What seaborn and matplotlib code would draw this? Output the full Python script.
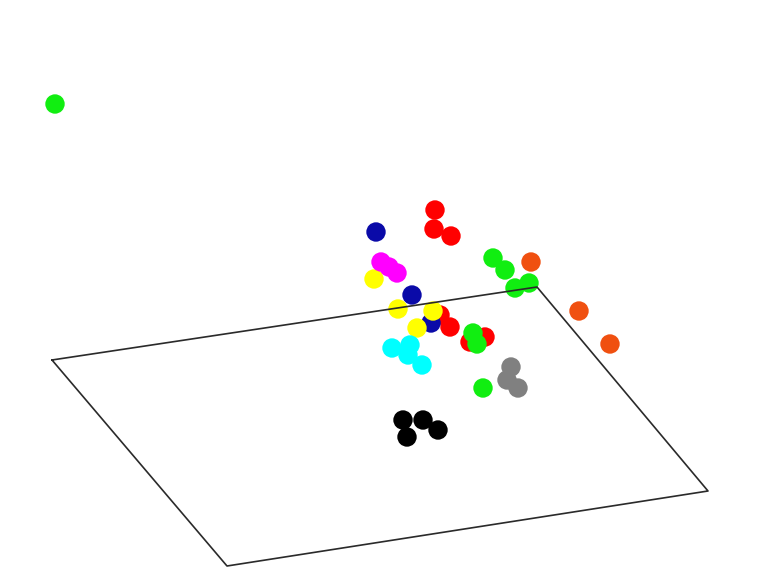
import pandas as pd
import numpy as np
import seaborn as sns
import matplotlib
matplotlib.use("Agg")
import matplotlib.pyplot as plt

# projected positions of the samples (listed in drawing order, back to front)
group = ['red', 'red', 'red', 'red', 'red', 'red', 'red',
         'blue', 'blue', 'blue',
         'yellow', 'yellow', 'yellow', 'yellow',
         'magenta', 'magenta', 'magenta',
         'green', 'green', 'green', 'green', 'green', 'green', 'green', 'green',
         'cyan', 'cyan', 'cyan', 'cyan',
         'gray', 'gray', 'gray',
         'black', 'black', 'black', 'black',
         'orange', 'orange', 'orange']
px = [435, 434, 451, 440, 450, 470, 485,
      376, 412, 431,
      374, 398, 433, 417,
      381, 389, 397,
      55, 493, 505, 515, 529, 473, 477, 483,
      392, 410, 408, 422,
      511, 507, 518,
      403, 407, 423, 438,
      531, 579, 610]
py = [210, 229, 236, 315, 327, 342, 337,
      232, 295, 323,
      279, 309, 311, 328,
      262, 267, 273,
      104, 258, 270, 288, 283, 333, 344, 388,
      348, 345, 355, 365,
      367, 380, 388,
      420, 437, 420, 430,
      262, 311, 344]

# floor plane corners
plane_x = [52, 537, 708, 227, 52]
plane_y = [360, 287, 491, 566, 360]

colors = {'red': '#ff0000', 'blue': '#0a0aa8', 'yellow': '#ffff00',
          'magenta': '#ff00ff', 'green': '#11ee11', 'cyan': '#00ffff',
          'gray': '#808080', 'black': '#000000', 'orange': '#f05010'}

df = pd.DataFrame({'x': px, 'y': py, 'group': group})

sns.set_style("white")
fig = plt.figure(figsize=(7.6, 5.86), dpi=100)
ax = fig.add_axes([0, 0, 1, 1])
sns.scatterplot(data=df, x='x', y='y', hue='group', palette=colors,
                s=195, linewidth=0, legend=False, ax=ax, zorder=2)
ax.plot(plane_x, plane_y, color='#2a2a2a', linewidth=1.2, zorder=3)
ax.set_xlim(0, 760)
ax.set_ylim(586, 0)
ax.axis('off')
plt.savefig('out.png', dpi=100)
